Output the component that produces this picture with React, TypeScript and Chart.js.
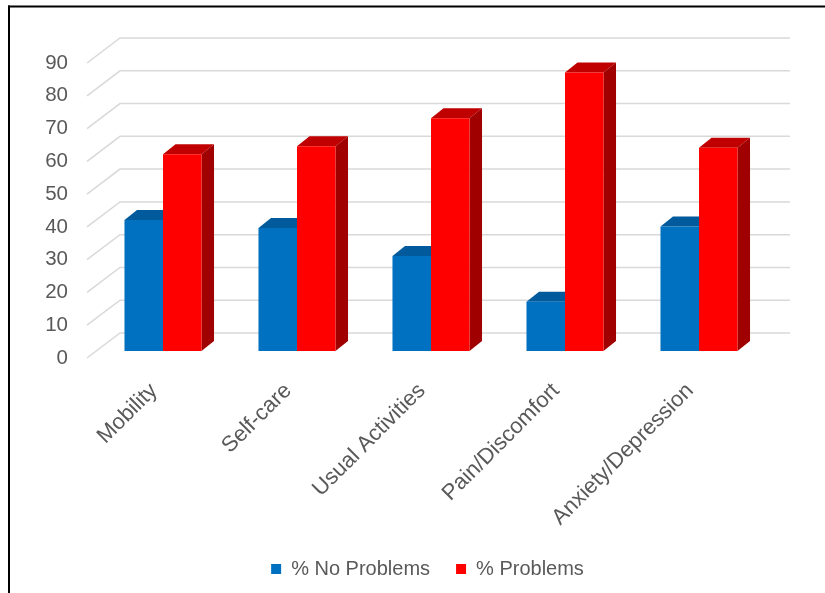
import { useEffect, useRef } from 'react';
import { Chart, registerables } from 'chart.js';

Chart.register(...registerables);

const categories = ['Mobility', 'Self-care', 'Usual Activities', 'Pain/Discomfort', 'Anxiety/Depression'];
const seriesNames = ['% No Problems', '% Problems'];
const noProblems = [40, 37.5, 29, 15, 38];
const problems = [60, 62.5, 71, 85, 62];
const yMin = 0;
const yMax = 90;
const yStep = 10;

const FONT = '"Liberation Sans", Arial, sans-serif';
const TEXT = '#595959';

const WALL_DX = 33;
const WALL_DY = 25;
const SHIFT_X = 9;
const SHIFT_Y = 7;
const BAR_DX = 12.5;
const BAR_DY = 10;

const faceColors = [
  { top: '#005A9C', side: '#004E88' },
  { top: '#C00000', side: '#A00000' },
];

const threeD = {
  id: 'threeD',
  beforeDraw(chart: any) {
    const { ctx, width, height } = chart;
    ctx.save();
    ctx.fillStyle = '#ffffff';
    ctx.fillRect(0, 0, width, height);
    ctx.fillStyle = '#000000';
    ctx.fillRect(8, 5.5, width - 8, 2);
    ctx.fillRect(8, 5.5, 2, height - 5.5);
    ctx.restore();
  },
  beforeDatasetsDraw(chart: any) {
    const { ctx, chartArea, scales } = chart;
    const y = scales.y;
    ctx.save();
    ctx.strokeStyle = '#d9d9d9';
    ctx.lineWidth = 1.5;
    y.ticks.forEach((t: any) => {
      const py = y.getPixelForValue(t.value);
      ctx.beginPath();
      ctx.moveTo(chartArea.left, py);
      ctx.lineTo(chartArea.left + WALL_DX, py - WALL_DY);
      ctx.lineTo(chartArea.right + WALL_DX, py - WALL_DY);
      ctx.stroke();
    });
    ctx.restore();

    ctx.save();
    ctx.translate(SHIFT_X, -SHIFT_Y);
    chart.data.datasets.forEach((_ds: any, i: number) => {
      const meta = chart.getDatasetMeta(i);
      const col = faceColors[i];
      meta.data.forEach((el: any) => {
        const { x, y: top, base, width } = el.getProps(['x', 'y', 'base', 'width'], true);
        const l = x - width / 2;
        const r = x + width / 2;
        ctx.fillStyle = col.top;
        ctx.beginPath();
        ctx.moveTo(l, top);
        ctx.lineTo(l + BAR_DX, top - BAR_DY);
        ctx.lineTo(r + BAR_DX, top - BAR_DY);
        ctx.lineTo(r, top);
        ctx.closePath();
        ctx.fill();
        ctx.fillStyle = col.side;
        ctx.beginPath();
        ctx.moveTo(r, top);
        ctx.lineTo(r + BAR_DX, top - BAR_DY);
        ctx.lineTo(r + BAR_DX, base - BAR_DY);
        ctx.lineTo(r, base);
        ctx.closePath();
        ctx.fill();
      });
    });
  },
  afterDatasetsDraw(chart: any) {
    chart.ctx.restore();
  },
};

export default function App() {
  const ref = useRef<HTMLCanvasElement | null>(null);
  useEffect(() => {
    if (!ref.current) return;
    const chart = new Chart(ref.current, {
      type: 'bar',
      data: {
        labels: categories,
        datasets: [
          { label: seriesNames[0], data: noProblems, backgroundColor: '#0070C0', borderWidth: 0, clip: false as any },
          { label: seriesNames[1], data: problems, backgroundColor: '#FF0000', borderWidth: 0, clip: false as any },
        ],
      },
      options: {
        responsive: false,
        animation: false,
        layout: { padding: { top: 63, left: 30, right: 0, bottom: 4 } },
        datasets: { bar: { categoryPercentage: 0.575, barPercentage: 1 } },
        plugins: {
          tooltip: { enabled: false },
          legend: {
            position: 'bottom',
            labels: {
              boxWidth: 10,
              boxHeight: 10,
              padding: 26,
              color: TEXT,
              font: { family: FONT, size: 20 },
            },
          },
        },
        scales: {
          x: {
            grid: { display: false },
            border: { display: false },
            ticks: {
              color: TEXT,
              font: { family: FONT, size: 22 },
              maxRotation: 45,
              minRotation: 45,
              padding: 12,
              autoSkip: false,
            },
            afterFit: (s: any) => { s.height = 175; },
          },
          y: {
            min: yMin,
            max: yMax,
            grid: { display: false, drawTicks: false },
            border: { display: false },
            ticks: {
              stepSize: yStep,
              color: TEXT,
              padding: 19,
              font: { family: FONT, size: 20.5 },
            },
            afterFit: (s: any) => { s.width = 57; },
          },
          yR: {
            position: 'right',
            display: true,
            grid: { display: false, drawTicks: false },
            border: { display: false },
            ticks: { display: false },
            afterFit: (s: any) => { s.width = 68; },
          },
        },
      },
      plugins: [threeD],
    });
    return () => chart.destroy();
  }, []);
  return (
    <div style={{ position: 'absolute', left: 0, top: 0, width: 825, height: 593 }}>
      <canvas ref={ref} width={825} height={593} style={{ display: 'block', width: 825, height: 593 }} />
    </div>
  );
}
